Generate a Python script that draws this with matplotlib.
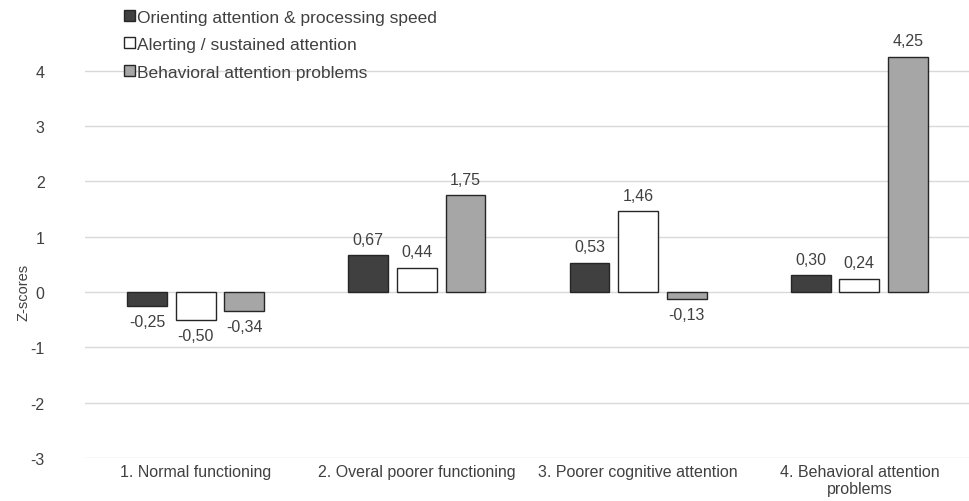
import numpy as np
import matplotlib.pyplot as plt

plt.rcParams['font.family'] = ['Liberation Sans', 'DejaVu Sans']

categories = ["1. Normal functioning", "2. Overal poorer functioning",
              "3. Poorer cognitive attention", "4. Behavioral attention\nproblems"]
series_names = ["Orienting attention & processing speed",
                "Alerting / sustained attention",
                "Behavioral attention problems"]
orienting = [-0.25, 0.67, 0.53, 0.30]
alerting = [-0.50, 0.44, 1.46, 0.24]
behavioral = [-0.34, 1.75, -0.13, 4.25]
yticks = [-3, -2, -1, 0, 1, 2, 3, 4]

colors = ["#404040", "#ffffff", "#a6a6a6"]
fs = 11.5

fig = plt.figure(figsize=(9.7, 5.02), dpi=100)
ax = fig.add_axes([85 / 970, 1 - 459 / 502, 1 - 85 / 970, (459 - 30) / 502])

x = np.arange(len(categories))
width = 0.18
offsets = [-0.22, 0, 0.22]
for vals, name, col, off in zip([orienting, alerting, behavioral], series_names, colors, offsets):
    bars = ax.bar(x + off, vals, width, color=col, edgecolor="#262626", linewidth=1.0,
                  label=name, zorder=3)
    for b, v in zip(bars, vals):
        txt = f"{v:.2f}".replace(".", ",")
        if v >= 0:
            ax.annotate(txt, (b.get_x() + b.get_width() / 2, v), xytext=(0, 6),
                        textcoords="offset points", ha="center", va="bottom",
                        fontsize=fs, color="#404040")
        else:
            ax.annotate(txt, (b.get_x() + b.get_width() / 2, v), xytext=(0, -6),
                        textcoords="offset points", ha="center", va="top",
                        fontsize=fs, color="#404040")

ax.set_xlim(-0.5, len(categories) - 0.5)
ax.set_ylim(-3, 4.75)
ax.set_yticks(yticks)
ax.set_yticklabels([str(t) for t in yticks])
ax.set_xticks(x)
ax.set_xticklabels(categories, fontsize=fs, color="#404040")
ax.tick_params(axis="y", labelsize=fs, colors="#404040", length=0, pad=29)
ax.tick_params(axis="x", length=0, pad=4)
ax.grid(axis="y", color="#d9d9d9", linewidth=1.0, zorder=0)
for s in ax.spines.values():
    s.set_visible(False)
ax.set_ylabel("Z-scores", fontsize=fs - 1, color="#404040")
ax.yaxis.set_label_coords(-0.062, 3 / 7.75)

leg = fig.legend(loc="upper left", bbox_to_anchor=(0.112, 1.01), frameon=False,
                 fontsize=fs + 1, handlelength=0.6, handleheight=0.6, handletextpad=0.15,
                 labelspacing=0.72, labelcolor="#404040")

fig.savefig("out.png", dpi=100)
